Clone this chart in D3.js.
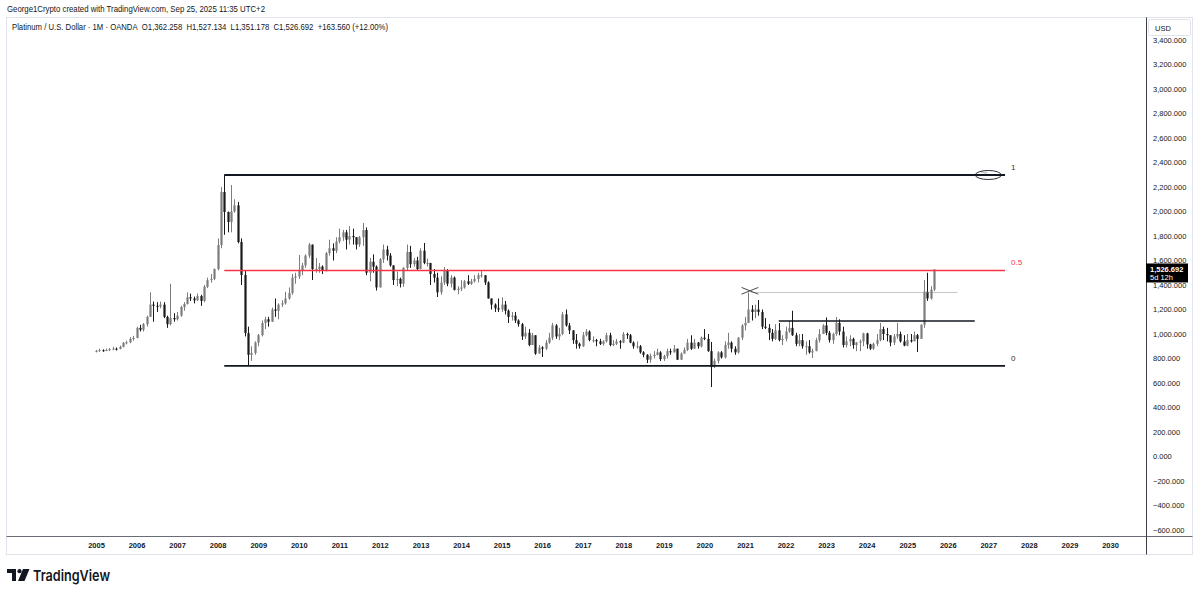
<!DOCTYPE html>
<html>
<head>
<meta charset="utf-8">
<script src="https://cdn.jsdelivr.net/npm/d3@7"></script>
<style>
  html, body { margin: 0; padding: 0; background: #fff; }
  svg { display: block; font-family: "Liberation Sans", Arial, sans-serif; }
</style>
</head>
<body>
<svg id="chart"></svg>
<script>
// taille de la page
const width = 1200, height = 594;

// Données : clôtures / plus hauts / plus bas mensuels, de janv. 2005 à sept. 2025
const firstOpen = 858;
const closes = [
  862, 868, 864, 870, 876, 880, 878, 895, 928, 932, 960, 968,
  1050, 1035, 1080, 1140, 1240, 1230, 1225, 1240, 1140, 1080, 1130, 1120,
  1150, 1220, 1245, 1300, 1290, 1275, 1310, 1270, 1385, 1440, 1450, 1530,
  1726, 2159, 1996, 1914, 2000, 2050, 1751, 1482, 1008, 830, 845, 930,
  990, 1090, 1120, 1100, 1200, 1190, 1240, 1250, 1290, 1335, 1460, 1470,
  1520, 1560, 1640, 1730, 1530, 1530, 1550, 1520, 1660, 1700, 1680, 1755,
  1790, 1830, 1770, 1800, 1790, 1730, 1790, 1849, 1500, 1590, 1550, 1380,
  1610, 1690, 1640, 1560, 1440, 1450, 1410, 1540, 1670, 1570, 1600, 1530,
  1680, 1580, 1580, 1490, 1460, 1340, 1420, 1520, 1410, 1460, 1360, 1370,
  1380, 1430, 1410, 1430, 1450, 1480, 1480, 1420, 1290, 1240, 1210, 1200,
  1240, 1190, 1140, 1150, 1110, 1080, 980, 1010, 910, 990, 840, 890,
  880, 930, 970, 1070, 980, 1000, 1160, 1070, 1030, 950, 920, 900,
  990, 1020, 950, 950, 940, 920, 940, 990, 910, 920, 940, 930,
  1000, 990, 930, 900, 900, 850, 830, 790, 820, 830, 850, 795,
  820, 860, 850, 880, 790, 840, 870, 930, 880, 930, 900, 970,
  960, 860, 730, 780, 850, 810, 910, 930, 880, 850, 970, 1070,
  1090, 1200, 1180, 1200, 1180, 1060, 1050, 1010, 960, 1030, 950, 960,
  1020, 1050, 990, 920, 950, 900, 900, 850, 860, 950, 1000, 1070,
  1010, 950, 1000, 1090, 1020, 910, 940, 960, 910, 930, 940, 1005,
  915, 880, 920, 950, 1040, 1000, 990, 930, 980, 1000, 940, 905,
  950, 940, 990, 960, 1075, 1345, 1290, 1362.258, 1526.692
];
const highs = [
  870, 880, 875, 880, 885, 895, 890, 905, 935, 945, 975, 985,
  1060, 1075, 1090, 1150, 1340, 1265, 1260, 1265, 1260, 1150, 1410, 1170,
  1180, 1230, 1260, 1340, 1330, 1305, 1330, 1320, 1400, 1460, 1490, 1535,
  1780, 2200, 2298, 2000, 2216, 2100, 2078, 1780, 1520, 1060, 900, 940,
  1000, 1110, 1140, 1140, 1215, 1290, 1250, 1275, 1345, 1380, 1490, 1500,
  1645, 1580, 1650, 1743, 1730, 1620, 1580, 1560, 1670, 1770, 1740, 1790,
  1860, 1850, 1850, 1880, 1860, 1790, 1800, 1906, 1870, 1620, 1650, 1560,
  1620, 1730, 1720, 1660, 1560, 1510, 1460, 1545, 1730, 1720, 1620, 1630,
  1700, 1743, 1615, 1580, 1530, 1500, 1470, 1546, 1530, 1480, 1470, 1390,
  1440, 1440, 1480, 1450, 1480, 1500, 1522, 1480, 1430, 1290, 1250, 1290,
  1300, 1270, 1200, 1180, 1180, 1120, 1090, 1060, 1040, 1010, 990, 910,
  900, 950, 1010, 1090, 1080, 1050, 1180, 1200, 1090, 1030, 1000, 930,
  1015, 1040, 1030, 980, 960, 960, 950, 1010, 1010, 950, 960, 950,
  1016, 1010, 1000, 940, 940, 910, 860, 835, 840, 860, 880, 860,
  830, 880, 880, 910, 880, 850, 890, 960, 990, 960, 935, 980,
  1040, 1000, 935, 800, 860, 860, 940, 1010, 940, 900, 975, 1080,
  1140, 1339, 1235, 1240, 1277, 1200, 1130, 1080, 1040, 1080, 1090, 990,
  1060, 1110, 1190, 1010, 1000, 1000, 940, 950, 880, 970, 1040, 1080,
  1135, 1025, 1010, 1139, 1120, 1060, 980, 990, 970, 935, 955, 1010,
  1010, 920, 930, 1000, 1090, 1060, 1050, 990, 1000, 1090, 1020, 990,
  1000, 1000, 1020, 1000, 1080, 1440, 1500, 1390, 1527.134
];
const lows = [
  850, 855, 855, 860, 860, 868, 865, 875, 890, 915, 925, 945,
  965, 1020, 1020, 1060, 1140, 1100, 1180, 1210, 1130, 1050, 1070, 1100,
  1110, 1140, 1190, 1240, 1270, 1250, 1270, 1230, 1260, 1375, 1420, 1440,
  1520, 1700, 1810, 1830, 1830, 1990, 1740, 1400, 980, 739, 780, 830,
  900, 980, 1040, 1060, 1100, 1140, 1120, 1220, 1240, 1280, 1320, 1410,
  1450, 1480, 1540, 1620, 1441, 1500, 1500, 1490, 1510, 1640, 1600, 1660,
  1740, 1760, 1690, 1730, 1730, 1690, 1710, 1720, 1480, 1430, 1500, 1355,
  1380, 1580, 1600, 1550, 1400, 1390, 1380, 1385, 1520, 1540, 1550, 1520,
  1530, 1570, 1550, 1400, 1420, 1302, 1320, 1400, 1390, 1380, 1355, 1325,
  1350, 1370, 1400, 1400, 1420, 1420, 1460, 1400, 1290, 1200, 1180, 1180,
  1180, 1160, 1090, 1110, 1090, 1060, 951, 960, 900, 920, 830, 840,
  812, 870, 920, 950, 960, 950, 990, 1060, 1000, 920, 880, 880,
  895, 980, 940, 930, 900, 910, 905, 930, 900, 900, 910, 880,
  925, 960, 925, 880, 880, 840, 810, 763, 765, 800, 825, 780,
  780, 800, 830, 850, 790, 790, 840, 860, 870, 880, 880, 890,
  950, 855, 567, 722, 760, 800, 800, 880, 850, 830, 840, 950,
  1030, 1090, 1110, 1130, 1150, 1040, 1040, 950, 940, 950, 940, 910,
  940, 1010, 985, 900, 900, 880, 830, 840, 804, 860, 930, 1000,
  990, 930, 920, 985, 990, 890, 890, 900, 880, 860, 860, 900,
  880, 870, 870, 900, 940, 950, 940, 900, 910, 960, 930, 900,
  900, 930, 950, 853, 960, 1050, 1270, 1280, 1351.178
];

// Axes : années et prix
const yearTicks = d3.range(2005, 2031);
const priceTicks = d3.range(-600, 3401, 200);

// Dessins (Fibonacci et tracés)
const fibLevels = [
  { level: "1", price: 2298, color: "#131722" },
  { level: "0.5", price: 1518.5, color: "#f23645" },
  { level: "0", price: 739, color: "#131722" }
];
const fibStart = new Date(2008, 2, 1), fibEnd = new Date(2027, 5, 1);
const supportLine = { from: new Date(2021, 10, 1), to: new Date(2026, 8, 1), price: 1106 };
const highLine = { from: new Date(2021, 2, 1), to: new Date(2026, 3, 1), price: 1339 };
const crossLines = [
  [[new Date(2020, 11, 1), 1380], [new Date(2021, 4, 1), 1325]],
  [[new Date(2020, 11, 1), 1325], [new Date(2021, 4, 1), 1380]]
];
const ellipseAt = { date: new Date(2027, 0, 1), price: 2298 };

// Construire les bougies
const data = closes.map((c, i) => ({
  date: new Date(2005, i, 1),
  open: i === 0 ? firstOpen : closes[i - 1],
  high: highs[i],
  low: lows[i],
  close: c
}));

const svg = d3.select("#chart").attr("width", width).attr("height", height);
svg.append("rect").attr("width", width).attr("height", height).attr("fill", "#fff");

// Echelles
const xScale = d3.scaleTime()
  .domain([new Date(2005, 0, 1), new Date(2030, 0, 1)])
  .range([96, 1110]);
const yScale = d3.scaleLinear()
  .domain([-600, 3400])
  .range([530, 40]);

// cadre
svg.append("rect").attr("x", 6.5).attr("y", 17.5).attr("width", 1186).attr("height", 537)
  .attr("fill", "none").attr("stroke", "#e0e3eb");
svg.append("line").attr("x1", 6.5).attr("x2", 1192.5).attr("y1", 536.5).attr("y2", 536.5)
  .attr("stroke", "#6a6d78").attr("stroke-width", 1);
svg.append("line").attr("x1", 1146.5).attr("x2", 1146.5).attr("y1", 17.5).attr("y2", 554.5)
  .attr("stroke", "#3b3e48").attr("stroke-width", 1);

// en-têtes
svg.append("text").attr("x", 7).attr("y", 12).attr("font-size", 9).attr("fill", "#131722")
  .attr("textLength", 258).attr("lengthAdjust", "spacingAndGlyphs")
  .text("George1Crypto created with TradingView.com, Sep 25, 2025 11:35 UTC+2");
svg.append("text").attr("x", 12).attr("y", 30).attr("font-size", 9).attr("fill", "#131722")
  .attr("textLength", 376).attr("lengthAdjust", "spacingAndGlyphs")
  .text("Platinum / U.S. Dollar · 1M · OANDA\u00a0\u00a0O1,362.258\u00a0\u00a0H1,527.134\u00a0\u00a0L1,351.178\u00a0\u00a0C1,526.692\u00a0\u00a0+163.560 (+12.00%)");

// axe des prix
const yAxis = svg.append("g").attr("transform", "translate(1153,0)")
  .call(d3.axisRight(yScale).tickValues(priceTicks).tickSize(0).tickPadding(0)
    .tickFormat(d3.format(",.3f")));
yAxis.select(".domain").remove();
yAxis.selectAll("text").attr("font-size", 7.5).attr("fill", "#131722")
  .attr("font-family", "Liberation Sans, Arial, sans-serif");

// boîte USD
svg.append("rect").attr("x", 1148.5).attr("y", 19.5).attr("width", 42).attr("height", 16)
  .attr("rx", 2).attr("fill", "#fff").attr("stroke", "#e0e3eb");
svg.append("text").attr("x", 1155).attr("y", 31).attr("font-size", 7.5).attr("fill", "#131722").text("USD");

// axe du temps
const xAxis = svg.append("g").attr("transform", "translate(0,543)")
  .call(d3.axisBottom(xScale).tickValues(yearTicks.map(y => new Date(y, 0, 1)))
    .tickSize(0).tickPadding(0).tickFormat(d3.timeFormat("%Y")));
xAxis.select(".domain").remove();
xAxis.selectAll("text").attr("font-size", 7.5).attr("font-weight", "bold").attr("fill", "#131722")
  .attr("font-family", "Liberation Sans, Arial, sans-serif");

// bougies
const upColor = "#7c7c7c", downColor = "#1a1a1a";
const candles = svg.append("g");
candles.selectAll("line.wick").data(data).enter().append("line")
  .attr("class", "wick")
  .attr("x1", d => Math.round(xScale(d.date)) + 0.5)
  .attr("x2", d => Math.round(xScale(d.date)) + 0.5)
  .attr("y1", d => yScale(d.high))
  .attr("y2", d => yScale(d.low))
  .attr("stroke", d => d.close >= d.open ? upColor : downColor)
  .attr("stroke-width", 1);
candles.selectAll("rect.body").data(data).enter().append("rect")
  .attr("class", "body")
  .attr("x", d => Math.round(xScale(d.date)) - 0.6)
  .attr("width", 2.2)
  .attr("y", d => yScale(Math.max(d.open, d.close)))
  .attr("height", d => Math.max(1, Math.abs(yScale(d.open) - yScale(d.close))))
  .attr("fill", d => d.close >= d.open ? upColor : downColor);

// Fibonacci
fibLevels.forEach(f => {
  svg.append("line")
    .attr("x1", xScale(fibStart)).attr("x2", xScale(fibEnd))
    .attr("y1", yScale(f.price)).attr("y2", yScale(f.price))
    .attr("stroke", f.color).attr("stroke-width", f.level === "0.5" ? 1.3 : 1.8);
  svg.append("text").attr("x", xScale(fibEnd) + 6).attr("y", yScale(f.price) - 5)
    .attr("font-size", 8).attr("fill", f.color === "#131722" ? "#333" : f.color).text(f.level);
});

// ligne horizontale noire
svg.append("line")
  .attr("x1", xScale(supportLine.from)).attr("x2", xScale(supportLine.to))
  .attr("y1", yScale(supportLine.price)).attr("y2", yScale(supportLine.price))
  .attr("stroke", "#131722").attr("stroke-width", 1.6);

// ligne pointillée du plus haut 2021
svg.append("line")
  .attr("x1", xScale(highLine.from)).attr("x2", xScale(highLine.to))
  .attr("y1", yScale(highLine.price)).attr("y2", yScale(highLine.price))
  .attr("stroke", "#8a8a8a").attr("stroke-width", 1).attr("stroke-dasharray", "1,1");

// croix
crossLines.forEach(l => {
  svg.append("line")
    .attr("x1", xScale(l[0][0])).attr("y1", yScale(l[0][1]))
    .attr("x2", xScale(l[1][0])).attr("y2", yScale(l[1][1]))
    .attr("stroke", "#333").attr("stroke-width", 0.9);
});

// ellipse
const ex = xScale(ellipseAt.date), ey = yScale(ellipseAt.price);
svg.append("ellipse").attr("cx", ex).attr("cy", ey).attr("rx", 13).attr("ry", 4.5)
  .attr("fill", "none").attr("stroke", "#131722").attr("stroke-width", 0.9);
svg.append("path").attr("d", `M${ex - 7},${ey - 2.5} q1.5,-1.5 3,0 t3,0`)
  .attr("fill", "none").attr("stroke", "#666").attr("stroke-width", 0.6);

// étiquette du dernier prix
const last = data[data.length - 1];
const ly = yScale(last.close);
svg.append("rect").attr("x", 1146).attr("y", ly - 6).attr("width", 42).attr("height", 19)
  .attr("fill", "#000");
svg.append("text").attr("x", 1150).attr("y", ly + 2.5).attr("font-size", 7.5).attr("font-weight", "bold")
  .attr("fill", "#fff").text(d3.format(",.3f")(last.close));
svg.append("text").attr("x", 1150).attr("y", ly + 10.5).attr("font-size", 7.5)
  .attr("fill", "#fff").text("5d 12h");

// logo TradingView
const logo = svg.append("g").attr("fill", "#131722");
logo.append("path").attr("d", "M7,569 H16 V581 H12 V573 H7 Z");
logo.append("circle").attr("cx", 19.5).attr("cy", 571.2).attr("r", 2.1);
logo.append("path").attr("d", "M23,569 H29.5 L24.5,581 H18 Z");
svg.append("text").attr("x", 33).attr("y", 580.5).attr("font-size", 15).attr("font-weight", "600")
  .attr("font-family", "Inter, Liberation Sans, sans-serif").attr("fill", "#131722")
  .attr("textLength", 77).attr("lengthAdjust", "spacingAndGlyphs").text("TradingView");
</script>
</body>
</html>
